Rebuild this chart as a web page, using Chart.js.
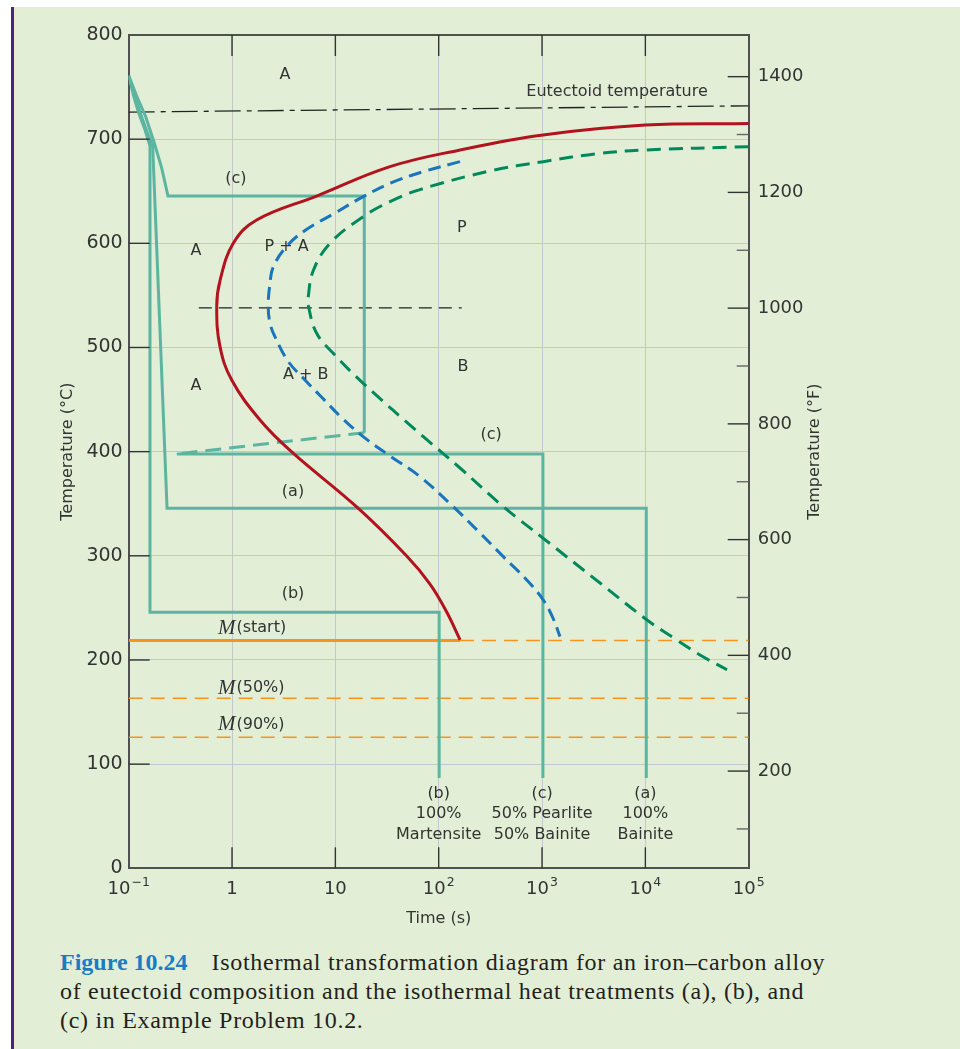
<!DOCTYPE html>
<html>
<head>
<meta charset="utf-8">
<title>Isothermal transformation diagram</title>
<script src="https://cdn.jsdelivr.net/npm/chart.js@4.4.0/dist/chart.umd.min.js"></script>
<style>
  html, body { margin: 0; padding: 0; background: #fff; }
  body { width: 960px; height: 1049px; position: relative; overflow: hidden; }
  #panel { position: absolute; left: 14px; top: 7px; right: 0; bottom: 0; background: #e2efd6; }
  #bar { position: absolute; left: 11px; top: 7px; width: 3px; bottom: 0; background: #4b2583; }
  #chart { position: absolute; left: 0; top: 0; }
  #caption { position: absolute; left: 60px; top: 948px; width: 880px;
    font: 24px/29px "Liberation Serif", "Times New Roman", serif; color: #231f20;
    white-space: nowrap; letter-spacing: 0.7px; }
  #caption b { color: #1b7cc4; margin-right: 24px; letter-spacing: 0; }
</style>
</head>
<body>
<div id="panel"></div>
<div id="bar"></div>
<canvas id="chart" width="960" height="940"></canvas>
<div id="caption"><b>Figure 10.24</b>Isothermal transformation diagram for an iron–carbon alloy<br>of eutectoid composition and the isothermal heat treatments (a), (b), and<br>(c) in Example Problem 10.2.</div>

<script>
/* Isothermal transformation (TTT) diagram, eutectoid Fe-C, Chart.js */

// axis ticks
const decades = [0.1, 1, 10, 100, 1000, 10000, 100000];
const decadeLabels = [['10', '\u22121'], ['1', ''], ['10', ''], ['10', '2'], ['10', '3'], ['10', '4'], ['10', '5']];
const fahrenheitMajor = [200, 400, 600, 800, 1000, 1200, 1400];
const fahrenheitMinor = [100, 300, 500, 700, 900, 1100, 1300];

// curves: [time (s), temperature (°C)]
const startCurve = [
  [100000, 715], [10000, 713.5], [1023, 704], [161, 689.6], [33.8, 673.6],
  [6.59, 645.4], [1.73, 622.4], [1.028, 600], [0.765, 564.3], [0.711, 539.2],
  [0.765, 500.8], [0.993, 468.8], [1.866, 430.4], [3.78, 399.7], [16.1, 346.9],
  [49, 299.8], [82.4, 272.9], [119.5, 246], [161, 219.3],
];
const halfCurve = [
  [160.8, 678.4], [71, 668.8], [33.8, 657.6], [18.6, 644.8], [9.92, 629.1],
  [5.16, 612.8], [3.4, 597.4], [2.51, 577.6], [2.33, 561.6], [2.24, 539.2],
  [2.33, 523.5], [2.6, 510.4], [3.51, 486.4], [5.08, 468.8], [7.38, 452.2],
  [11.5, 432.6], [18.6, 414.4], [33.8, 395.8], [65.9, 376], [138, 347.2],
  [240, 323.8], [422, 299.2], [711, 276.8], [1028, 257.6], [1276, 240.3],
  [1492, 222.4],
];
const endCurve = [
  [100000, 692.8], [10000, 689.6], [3640, 686.4], [1028, 678.4], [314, 669.5],
  [65.9, 651.6], [33.8, 640], [18.6, 625.6], [8.87, 600], [6.12, 573.9],
  [5.47, 548.8], [5.5, 539.2], [6.59, 513.6], [9.55, 494.4], [18.6, 465.6],
  [71, 414.4], [160.8, 384.3], [422, 347.2], [1028, 316.8], [3640, 273.9],
  [10380, 238.4], [20100, 219.2], [33800, 204.8], [61700, 190.6],
];

// heat treatment paths
const pathA = [
  [0.1, 761], [0.1143, 741.4], [0.1306, 724], [0.1493, 708], [0.1706, 693.5],
  [0.235, 345.6], [10200, 345.6], [10200, 86.7],
];
const pathB = [
  [0.1, 761], [0.1117, 741.4], [0.125, 725], [0.143, 709.8], [0.1607, 693.5],
  [0.1607, 669.5], [0.1607, 245.8], [101, 245.8], [101, 86.7],
];
const pathC = [
  [0.1, 761], [0.1195, 741.4], [0.146, 721.6], [0.1745, 698.3], [0.2084, 672.4],
  [0.24, 645.4], [19.05, 645.4], [19.05, 418.2],
];
const pathCQuench = [[19.05, 418.2], [0.292, 397.8]];
const pathCHold = [[0.292, 397.8], [1020, 397.8], [1020, 86.7]];

// reference lines
const eutectoidLine = [[0.1, 726], [100000, 732]];
const noseLine = [[0.477, 538], [167, 538]];
const msStartSolid = [[0.1, 218.7], [161, 218.7]];
const msStartDashed = [[161, 218.7], [100000, 218.7]];
const ms50 = [[0.1, 163.3], [100000, 163.3]];
const ms90 = [[0.1, 125.7], [100000, 125.7]];

// text inside the plot: [text, time, temperature]
const regionLabels = [
  ['A', 3.25, 761.6],
  ['Eutectoid temperature', 5320, 745.3],
  ['(c)', 1.09, 661.8],
  ['P', 167, 614.7],
  ['A', 0.448, 592.4],
  ['P + A', 3.38, 596.2],
  ['A + B', 5.16, 473.6],
  ['A', 0.448, 463],
  ['B', 172, 481.3],
  ['(c)', 321, 416],
  ['(a)', 3.89, 361.3],
  ['(b)', 3.89, 263.4],
];
const martensiteLabels = [['(start)', 230.7], ['(50%)', 173.1], ['(90%)', 137.6]];
const martensiteLabelTime = 0.731;
const productLabels = [
  [100, ['(b)', '100%', 'Martensite']],
  [1000, ['(c)', '50% Pearlite', '50% Bainite']],
  [10000, ['(a)', '100%', 'Bainite']],
];
const productLabelTemp = 71.5;

const teal = '#5bb5a0';
const red = '#b3121f';
const blue = '#1a75bc';
const green = '#00895c';
const orange = '#f7941d';
const axisColor = '#505050';
const textColor = '#333';
const sans = '"DejaVu Sans", sans-serif';

function pts(arr) {
  return arr.map(([t, T]) => ({ x: t, y: T }));
}

function line(data, color, width, opts = {}) {
  return Object.assign({
    data: pts(data),
    showLine: true,
    borderColor: color,
    backgroundColor: color,
    borderWidth: width,
    pointRadius: 0,
    fill: false,
    tension: 0,
  }, opts);
}

const datasets = [
  line(startCurve, red, 3, { tension: 0.4, order: 1 }),
  line(halfCurve, blue, 3, { tension: 0.4, borderDash: [13, 7], order: 2 }),
  line(endCurve, green, 3, { tension: 0.4, borderDash: [14, 8], order: 3 }),
  line(pathA, teal, 3, { order: 4 }),
  line(pathB, teal, 3, { order: 4 }),
  line(pathC, teal, 3, { order: 4 }),
  line(pathCQuench, teal, 3, { borderDash: [16, 8], order: 4 }),
  line(pathCHold, teal, 3, { order: 4 }),
  line(msStartSolid, orange, 3, { order: 5 }),
  line(msStartDashed, orange, 1.5, { borderDash: [14, 8], order: 5 }),
  line(ms50, orange, 1.5, { borderDash: [14, 8], order: 5 }),
  line(ms90, orange, 1.5, { borderDash: [14, 8], order: 5 }),
  line(eutectoidLine, '#222', 1.3, { borderDash: [26, 6, 5, 6], order: 6 }),
  line(noseLine, '#222', 1.3, { borderDash: [13, 7], order: 6 }),
];

function stroke(ctx, x1, y1, x2, y2) {
  ctx.beginPath();
  ctx.moveTo(x1, y1);
  ctx.lineTo(x2, y2);
  ctx.stroke();
}

const overlay = {
  id: 'overlay',
  afterDatasetsDraw(chart) {
    const { ctx, chartArea: a } = chart;
    const { x, y, y2 } = chart.scales;
    ctx.save();

    // top frame line
    ctx.strokeStyle = axisColor;
    ctx.lineWidth = 2;
    stroke(ctx, a.left, a.top, a.right, a.top);

    // inward tick marks
    ctx.strokeStyle = '#333';
    ctx.lineWidth = 1.4;
    decades.slice(1, -1).forEach(v => {
      const px = x.getPixelForValue(v);
      stroke(ctx, px, a.top, px, a.top + 21);
      stroke(ctx, px, a.bottom, px, a.bottom - 21);
    });
    for (let v = 100; v <= 700; v += 100) {
      const py = y.getPixelForValue(v);
      stroke(ctx, a.left, py, a.left + 21, py);
    }
    fahrenheitMajor.forEach(v => {
      const py = y2.getPixelForValue(v);
      stroke(ctx, a.right - 21, py, a.right, py);
    });
    ctx.strokeStyle = '#666';
    fahrenheitMinor.forEach(v => {
      const py = y2.getPixelForValue(v);
      stroke(ctx, a.right - 12, py, a.right, py);
    });

    ctx.fillStyle = textColor;
    ctx.textBaseline = 'middle';

    // x tick labels with superscript exponents
    decades.forEach((v, i) => {
      const [base, exp] = decadeLabels[i];
      const px = x.getPixelForValue(v);
      ctx.font = '18px ' + sans;
      const wb = ctx.measureText(base).width;
      ctx.font = '12.5px ' + sans;
      const we = exp ? ctx.measureText(exp).width + 1 : 0;
      const start = px - (wb + we) / 2;
      ctx.textAlign = 'left';
      ctx.font = '18px ' + sans;
      ctx.fillText(base, start, a.bottom + 21);
      if (exp) {
        ctx.font = '12.5px ' + sans;
        ctx.fillText(exp, start + wb + 1, a.bottom + 14);
      }
    });

    // labels inside the plot
    ctx.textAlign = 'center';
    ctx.font = '16px ' + sans;
    regionLabels.forEach(([txt, t, T]) => {
      ctx.fillText(txt, x.getPixelForValue(t), y.getPixelForValue(T));
    });

    productLabels.forEach(([t, lines]) => {
      const px = x.getPixelForValue(t);
      const py = y.getPixelForValue(productLabelTemp);
      lines.forEach((s, k) => ctx.fillText(s, px, py + k * 20.5));
    });

    ctx.textAlign = 'left';
    martensiteLabels.forEach(([txt, T]) => {
      const px = x.getPixelForValue(martensiteLabelTime);
      const py = y.getPixelForValue(T);
      ctx.font = 'italic 21px "Liberation Serif", serif';
      ctx.fillText('M', px, py);
      const wm = ctx.measureText('M').width;
      ctx.font = '16px ' + sans;
      ctx.fillText(txt, px + wm + 1, py);
    });

    // axis titles
    ctx.textAlign = 'center';
    ctx.font = '16px ' + sans;
    ctx.fillText('Time (s)', x.getPixelForValue(100), a.bottom + 51);
    const midY = (a.top + a.bottom) / 2;
    ctx.save();
    ctx.translate(a.left - 61, midY);
    ctx.rotate(-Math.PI / 2);
    ctx.fillText('Temperature (\u00b0C)', 0, 0);
    ctx.restore();
    ctx.save();
    ctx.translate(a.right + 66, midY);
    ctx.rotate(-Math.PI / 2);
    ctx.fillText('Temperature (\u00b0F)', 0, 0);
    ctx.restore();

    ctx.restore();
  },
};

new Chart(document.getElementById('chart'), {
  type: 'scatter',
  data: { datasets },
  options: {
    responsive: false,
    animation: false,
    layout: { padding: { top: 35, left: 0, right: 0, bottom: 0 } },
    plugins: { legend: { display: false }, tooltip: { enabled: false } },
    scales: {
      x: {
        type: 'logarithmic',
        position: 'bottom',
        min: 0.1,
        max: 100000,
        afterBuildTicks: s => { s.ticks = decades.map(v => ({ value: v })); },
        afterFit: s => { s.height = 71.7; },
        ticks: { display: false },
        grid: { color: '#c6c6cf', lineWidth: 1, drawTicks: false },
        border: { color: axisColor, width: 2 },
      },
      y: {
        position: 'left',
        min: 0,
        max: 800,
        afterFit: s => { s.width = 128.7; },
        ticks: {
          stepSize: 100,
          padding: 6,
          color: textColor,
          font: { family: sans, size: 19 },
          callback: v => String(v),
        },
        grid: { color: '#c6c6cf', lineWidth: 1, drawTicks: false },
        border: { color: axisColor, width: 2 },
      },
      y2: {
        position: 'right',
        min: 32,
        max: 1472,
        afterBuildTicks: s => { s.ticks = fahrenheitMajor.map(v => ({ value: v })); },
        afterFit: s => { s.width = 960 - 748.7; },
        ticks: {
          padding: 9,
          color: textColor,
          font: { family: sans, size: 18 },
          callback: v => String(v),
        },
        grid: { display: false, drawTicks: false },
        border: { color: axisColor, width: 2 },
      },
    },
  },
  plugins: [overlay],
});
</script>
</body>
</html>
